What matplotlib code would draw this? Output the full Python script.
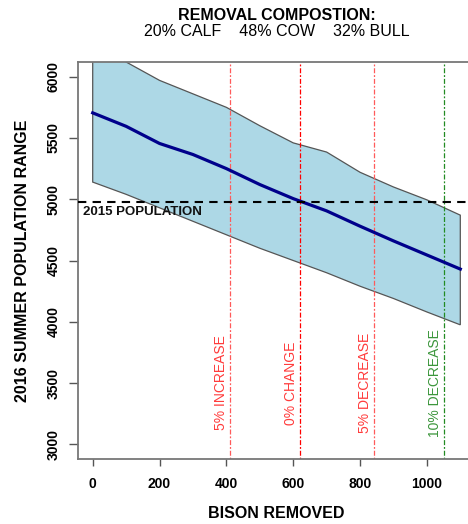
import matplotlib
matplotlib.use("Agg")
import matplotlib.pyplot as plt

plt.rcParams['font.family'] = ['Liberation Sans', 'DejaVu Sans']

# ---- data ----
bison_removed = [0, 100, 200, 300, 400, 500, 600, 700, 800, 900, 1000, 1100]
mean_pop = [5705, 5595, 5455, 5365, 5250, 5120, 5005, 4905, 4780, 4660, 4545, 4430]
upper_pop = [6280, 6120, 5970, 5860, 5750, 5600, 5460, 5385, 5220, 5100, 4995, 4870]
lower_pop = [5140, 5040, 4930, 4820, 4710, 4600, 4500, 4400, 4290, 4190, 4080, 3975]
pop_2015 = 4980
thresholds = [410, 620, 841, 1051]
threshold_labels = ["5% INCREASE", "0% CHANGE", "5% DECREASE", "10% DECREASE"]
threshold_colors = ["#ff5a5a", "red", "#ff5a5a", "forestgreen"]
text_colors = ["#ff3b3b", "#ff3b3b", "#ff3b3b", "#3c963c"]
x_ticks = [0, 200, 400, 600, 800, 1000]
y_ticks = [3000, 3500, 4000, 4500, 5000, 5500, 6000]

fig = plt.figure(figsize=(4.68, 5.24), dpi=100)
ax = fig.add_axes([78/468, 1 - 459/524, (475 - 78)/468, (459 - 62)/524])

# band
poly_x = bison_removed + bison_removed[::-1]
poly_y = upper_pop + lower_pop[::-1]
ax.fill(poly_x, poly_y, facecolor='#add8e6', edgecolor='#555555', lw=0.9, zorder=1)

# mean line
ax.plot(bison_removed, mean_pop, color='#00008b', lw=2.3, zorder=3)

# 2015 population
ax.axhline(pop_2015, color='black', lw=1.5, ls=(0, (4, 3)), zorder=4)
ax.text(-28, pop_2015 - 88, "2015 POPULATION", fontsize=9.5, fontweight='bold',
        ha='left', va='center', color='#111111', zorder=5)

# thresholds
for xv, lab, lc, tc in zip(thresholds, threshold_labels, threshold_colors, text_colors):
    ax.axvline(xv, color=lc, lw=0.9, ls=(0, (1.5, 1.5, 4, 1.5)), zorder=2)
    ax.text(xv - 27, 3500, lab, rotation=90, ha='center', va='center',
            fontsize=10, color=tc, zorder=5)

ax.set_xlim(-44, 1144)
ax.set_ylim(2880, 6120)
ax.set_xticks(x_ticks)
ax.set_yticks(y_ticks)
ax.set_xticklabels([str(v) for v in x_ticks], fontweight='bold', fontsize=10)
ax.set_yticklabels([str(v) for v in y_ticks], fontweight='bold', fontsize=10,
                   rotation=90, va='center')
ax.tick_params(axis='x', length=5, width=1, color='#555555', pad=8)
ax.tick_params(axis='y', length=6.5, width=1, color='#555555', pad=6)

for s in ax.spines.values():
    s.set_color('#777777')
    s.set_linewidth(1.3)

fig.text(22.5/468, 1 - 261/524, "2016 SUMMER POPULATION RANGE", rotation=90,
         ha='center', va='center', fontsize=11.5, fontweight='bold')
fig.text(276.5/468, 1 - 513/524, "BISON REMOVED", ha='center', va='center',
         fontsize=11.5, fontweight='bold')
fig.text(276.5/468, 1 - 16/524, "REMOVAL COMPOSTION:", ha='center', va='center',
         fontsize=11.5, fontweight='bold')
fig.text(276.5/468, 1 - 31/524, "20% CALF    48% COW    32% BULL", ha='center',
         va='center', fontsize=11.5)

fig.savefig("out.png", dpi=100)
